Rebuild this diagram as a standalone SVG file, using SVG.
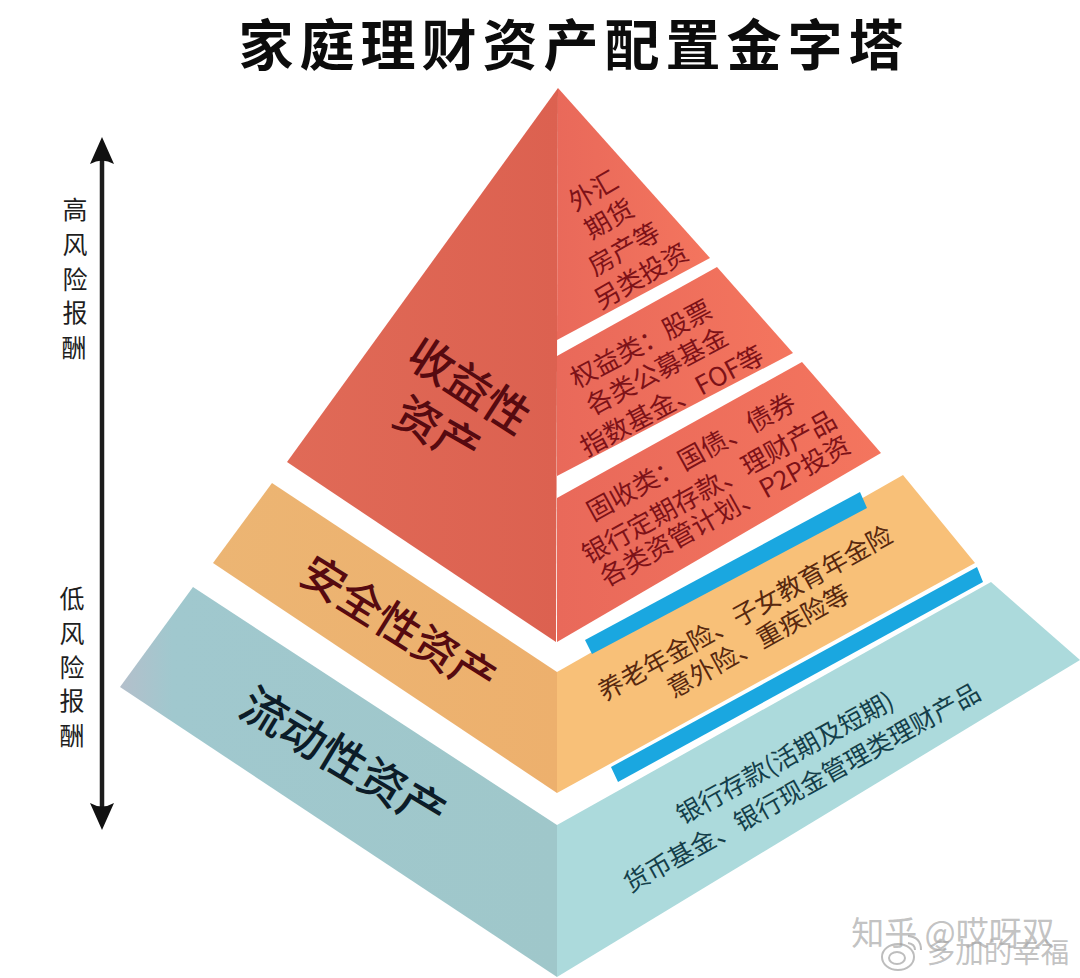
<svg xmlns="http://www.w3.org/2000/svg" width="1080" height="978" viewBox="0 0 1080 978">
<style>
text{font-family:"Noto Sans CJK SC","Noto Sans",sans-serif;text-anchor:middle;dominant-baseline:central}
.title{font-size:55px;font-weight:700;fill:#0c0c0c;letter-spacing:6px}
.side{font-size:25px;fill:#1e1e1e;font-weight:400}
.r{font-size:26px;fill:#7d1218;font-weight:400}
.o{font-size:25.5px;fill:#57280f;font-weight:400}
.t{font-size:25.2px;fill:#143f4a;font-weight:400}
.big{font-weight:500;fill:#560a10}
.big2{font-weight:500;fill:#0c1c28}
.wm{fill:#a8a8a8;fill-opacity:.7;font-weight:400}
.ring{fill:none;stroke:#9a9a9a;stroke-opacity:.65;stroke-width:2}
</style>
<defs>
<linearGradient id="redR" x1="0" y1="0" x2="1" y2="0"><stop offset="0" stop-color="#e9695a"/><stop offset="1" stop-color="#f4755e"/></linearGradient>
<linearGradient id="redL" x1="0" y1="0" x2="1" y2="0"><stop offset="0" stop-color="#e06a57"/><stop offset="1" stop-color="#dc6150"/></linearGradient>
<linearGradient id="orL" x1="0" y1="0" x2="1" y2="0"><stop offset="0" stop-color="#ecb573"/><stop offset="1" stop-color="#edb06d"/></linearGradient>
<linearGradient id="teL" x1="0" y1="0" x2="1" y2="0"><stop offset="0" stop-color="#b4bfcb"/><stop offset=".12" stop-color="#a0c8ce"/><stop offset="1" stop-color="#9fc7ca"/></linearGradient>
</defs>
<rect width="1080" height="978" fill="#fff"/>
<g id="title"><text class="title" x="574" y="40.5">家庭理财资产配置金字塔</text></g>
<g id="connectors">
<path d="M102 160V808" stroke="#1c1c1c" stroke-width="4.5" fill="none"/>
<path d="M102 137L114 164Q102 157 90 164Z" fill="#111"/>
<path d="M102 830L114 803Q102 810 90 803Z" fill="#111"/>
</g>
<g id="risk-high">
<text class="side" x="75" y="208">高</text><text class="side" x="75" y="243">风</text><text class="side" x="75" y="278">险</text><text class="side" x="75" y="311">报</text><text class="side" x="74" y="346">酬</text>
</g>
<g id="risk-low">
<text class="side" x="72" y="597">低</text><text class="side" x="72" y="632">风</text><text class="side" x="72" y="666">险</text><text class="side" x="72" y="699">报</text><text class="side" x="72" y="734">酬</text>
</g>
<g id="tier-return">
<polygon points="558,88 287,462 556,642" fill="url(#redL)"/>
<text class="big" font-size="45" transform="translate(471 383) rotate(33)">收益性</text>
<text class="big" font-size="45" transform="translate(439 428) rotate(30)">资产</text>
</g>
<g id="tier-alt">
<polygon points="558,88 710,258 557,340" fill="url(#redR)"/>
<text class="r" transform="translate(592 189) rotate(-30)">外汇</text>
<text class="r" transform="translate(608 217) rotate(-30)">期货</text>
<text class="r" transform="translate(623 247) rotate(-30)">房产等</text>
<text class="r" transform="translate(640 274) rotate(-30)">另类投资</text>
</g>
<g id="tier-equity">
<polygon points="717,267 793,353 557,476 557,356" fill="url(#redR)"/>
<text class="r" transform="translate(640 342) rotate(-28)">权益类：股票</text>
<text class="r" transform="translate(656 369) rotate(-28)">各类公募基金</text>
<text class="r" transform="translate(671 399) rotate(-28)">指数基金、FOF等</text>
</g>
<g id="tier-fixed">
<polygon points="802,362 881,453 557,642 557,498" fill="url(#redR)"/>
<text class="r" transform="translate(690 455) rotate(-29)">固收类：国债、债券</text>
<text class="r" transform="translate(708 485) rotate(-29)">银行定期存款、理财产品</text>
<text class="r" transform="translate(724 509) rotate(-29)">各类资管计划、P2P投资</text>
</g>
<g id="tier-safe">
<polygon points="272,483 213,563 557,793 557,672" fill="url(#orL)"/>
<polygon points="557,672 903,475 975,563 557,793" fill="#f8c078"/>
<polygon points="585,640 860,492 867,508 592,654" fill="#1aa7e0"/>
<text class="big" font-size="44" transform="translate(400 623) rotate(32)">安全性资产</text>
<text class="o" transform="translate(744 611) rotate(-29)">养老年金险、子女教育年金险</text>
<text class="o" transform="translate(757 639) rotate(-29)">意外险、重疾险等</text>
</g>
<g id="tier-liquid">
<polygon points="193,587 120,687 557,977 557,825" fill="url(#teL)"/>
<polygon points="557,825 991,582 1080,660 557,977" fill="#acdadc"/>
<polygon points="611,767 977,567 983,582 618,782" fill="#1aa7e0"/>
<text class="big2" font-size="46" transform="translate(345 756) rotate(31)">流动性资产</text>
<text class="t" transform="translate(784 756) rotate(-29)">银行存款(活期及短期)</text>
<text class="t" transform="translate(801 786) rotate(-29)">货币基金、银行现金管理类理财产品</text>
</g>
<g id="watermark">
<text class="wm" font-size="33" x="953" y="931">知乎 @哎呀双</text>
<text class="wm" font-size="28.5" x="998" y="950">多加的幸福</text>
<ellipse class="ring" cx="898" cy="957" rx="16" ry="13"/>
<ellipse class="ring" cx="897" cy="958" rx="8" ry="6"/>
<path class="ring" d="M908 936Q921 937 921 950"/>
<path class="ring" d="M908 943Q915 944 915 950"/>
</g>
</svg>
